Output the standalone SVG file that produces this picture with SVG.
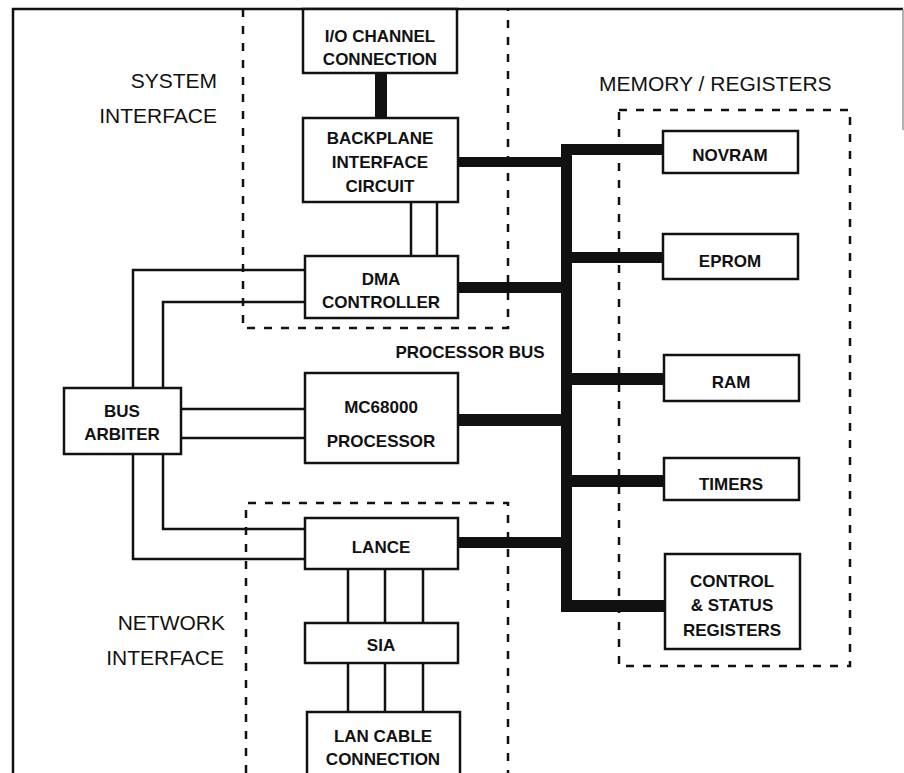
<svg xmlns="http://www.w3.org/2000/svg" width="904" height="773" viewBox="0 0 904 773">
<style>
.box{fill:#fff;stroke:#111;stroke-width:2.5}
.thin{fill:none;stroke:#111;stroke-width:2.5}
.bus{fill:#111;stroke:none}
.dash{fill:none;stroke:#111;stroke-width:2.5;stroke-dasharray:8 9}
.t{font-family:"Liberation Sans",Arial,sans-serif;font-weight:bold;font-size:17px;fill:#111;text-anchor:middle}
.lbl{font-family:"Liberation Sans",Arial,sans-serif;font-size:21px;fill:#111}
</style>
<rect width="904" height="773" fill="#fff"/>
<g id="frame">
<path d="M13 773 V9 H903" class="thin"/>
<path d="M903 9 V130" fill="none" stroke="#999" stroke-width="1.5"/>
</g>
<g id="regions">
<path id="system-interface-region" d="M243 9 V328 H508 V9" class="dash"/>
<path id="network-interface-region" d="M246 773 V503 H508 V773" class="dash"/>
<rect id="memory-region" x="619" y="110" width="231" height="556" class="dash"/>
<text class="lbl" x="217" y="88" text-anchor="end">SYSTEM</text>
<text class="lbl" x="217" y="123" text-anchor="end">INTERFACE</text>
<text class="lbl" x="225" y="630" text-anchor="end">NETWORK</text>
<text class="lbl" x="224" y="665" text-anchor="end">INTERFACE</text>
<text class="lbl" x="599" y="91" font-size="22">MEMORY / REGISTERS</text>
<text class="t" x="470" y="358" text-anchor="middle">PROCESSOR BUS</text>
</g>
<g id="connectors">
<rect class="bus" x="375" y="73" width="12" height="45"/>
<rect class="bus" x="561" y="144" width="11" height="468"/>
<rect class="bus" x="458" y="157" width="103" height="10"/>
<rect class="bus" x="561" y="144" width="102" height="11"/>
<rect class="bus" x="572" y="252" width="91" height="11"/>
<rect class="bus" x="458" y="282" width="103" height="11"/>
<rect class="bus" x="572" y="373" width="92" height="12"/>
<rect class="bus" x="458" y="414" width="103" height="12"/>
<rect class="bus" x="572" y="475" width="92" height="12"/>
<rect class="bus" x="458" y="537" width="103" height="11"/>
<rect class="bus" x="561" y="600" width="104" height="12"/>
<path class="thin" d="M411 202 V256 M437 202 V256"/>
<path class="thin" d="M305 270 H133 V388 M305 302 H163 V388"/>
<path class="thin" d="M181 409 H305 M181 438 H305"/>
<path class="thin" d="M163 454 V529 H305 M133 454 V559 H305"/>
<path class="thin" d="M348 569 V623 M385 569 V623 M423 569 V623"/>
<path class="thin" d="M348 663 V712 M385 663 V712 M423 663 V712"/>
</g>
<g id="io-channel"><rect class="box" x="303" y="9" width="154" height="64"/><text class="t" x="380" y="42">I/O CHANNEL</text><text class="t" x="380" y="65">CONNECTION</text></g>
<g id="backplane"><rect class="box" x="303" y="118" width="155" height="84"/><text class="t" x="380" y="144">BACKPLANE</text><text class="t" x="380" y="168">INTERFACE</text><text class="t" x="380" y="192">CIRCUIT</text></g>
<g id="dma"><rect class="box" x="305" y="256" width="153" height="62"/><text class="t" x="381" y="285">DMA</text><text class="t" x="381" y="308">CONTROLLER</text></g>
<g id="bus-arbiter"><rect class="box" x="64" y="388" width="117" height="66"/><text class="t" x="122" y="417">BUS</text><text class="t" x="122" y="440">ARBITER</text></g>
<g id="mc68000"><rect class="box" x="305" y="373" width="153" height="90"/><text class="t" x="381" y="413">MC68000</text><text class="t" x="381" y="447">PROCESSOR</text></g>
<g id="lance"><rect class="box" x="305" y="518" width="153" height="51"/><text class="t" x="381" y="553">LANCE</text></g>
<g id="sia"><rect class="box" x="305" y="623" width="153" height="40"/><text class="t" x="381" y="651">SIA</text></g>
<g id="lan-cable"><rect class="box" x="307" y="712" width="153" height="70"/><text class="t" x="383" y="742">LAN CABLE</text><text class="t" x="383" y="765">CONNECTION</text></g>
<g id="novram"><rect class="box" x="663" y="131" width="135" height="42"/><text class="t" x="730" y="161">NOVRAM</text></g>
<g id="eprom"><rect class="box" x="663" y="234" width="135" height="45"/><text class="t" x="730" y="267">EPROM</text></g>
<g id="ram"><rect class="box" x="664" y="355" width="135" height="46"/><text class="t" x="731" y="388">RAM</text></g>
<g id="timers"><rect class="box" x="664" y="458" width="135" height="42"/><text class="t" x="731" y="490">TIMERS</text></g>
<g id="control-status"><rect class="box" x="665" y="554" width="135" height="95"/><text class="t" x="732" y="587">CONTROL</text><text class="t" x="732" y="611">&amp; STATUS</text><text class="t" x="732" y="636">REGISTERS</text></g>
</svg>
